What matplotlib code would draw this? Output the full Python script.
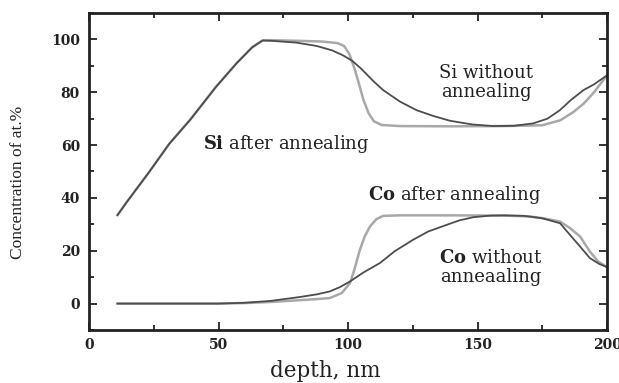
import matplotlib
matplotlib.use("Agg")
import matplotlib.pyplot as plt

# ---- data ----
si_after_x = [11, 15, 23, 31, 39, 49, 57, 63, 67, 70, 80, 90, 96, 98.5, 100.5, 102.5,
              104, 106, 108, 110, 113, 120, 140, 160, 175, 182, 187, 191, 195, 200]
si_after_y = [33.5, 39, 49.5, 60.5, 69.5, 82, 91, 97, 99.6, 99.7, 99.5, 99.2, 98.6, 97.5,
              94.5, 89, 84, 77, 72, 69, 67.6, 67.2, 67.1, 67.2, 67.5, 69.4, 72.5, 75.7, 80, 86.4]

si_without_x = [11, 15, 23, 31, 39, 49, 57, 63, 67, 70, 80, 88, 94, 98, 101.5, 105, 110,
                113.6, 120, 126.5, 133, 139.4, 148, 156, 164, 171.5, 177, 181.8, 186,
                190.9, 195, 200]
si_without_y = [33.5, 39, 49.5, 60.5, 69.5, 82, 91, 97, 99.6, 99.5, 98.8, 97.5, 95.8, 94,
                92, 89, 84, 80.8, 76.5, 73.2, 71, 69.2, 67.8, 67.2, 67.3, 68.2, 70, 73.2,
                77, 80.8, 83, 86.4]

co_after_x = [11, 50, 60, 70, 80, 88, 93, 97.6, 100.8, 102.5, 104.6, 106.5, 108.5, 111,
              113.6, 120, 140, 160, 170, 176, 181.9, 185.7, 189.6, 193.4, 196.5, 200]
co_after_y = [0, 0, 0.2, 0.6, 1.2, 1.7, 2.1, 4, 7.8, 13, 20.4, 25.5, 29.2, 32, 33.2, 33.4,
              33.4, 33.3, 33.0, 32.2, 31, 28.6, 25.4, 19.7, 16, 13.8]

co_without_x = [11, 50, 60, 70, 81.5, 88, 93, 97, 100.8, 106, 112.4, 118, 125.2, 131,
                138.1, 143, 148.4, 155, 160, 168, 175, 181.9, 185.7, 189.6, 193.4, 197, 200]
co_without_y = [0, 0, 0.3, 1.0, 2.5, 3.5, 4.6, 6.3, 8.4, 11.8, 15.4, 19.8, 24.2, 27.3,
                29.8, 31.5, 32.7, 33.3, 33.4, 33.2, 32.3, 30.4, 26, 21.6, 17.2, 15, 13.8]

x_ticks = [0, 50, 100, 150, 200]
y_ticks = [0, 20, 40, 60, 80, 100]

# ---- style ----
ANN = 'DejaVu Serif'
plt.rcParams['mathtext.fontset'] = 'custom'
plt.rcParams['mathtext.rm'] = ANN
plt.rcParams['mathtext.bf'] = ANN + ':bold'

LIGHT = '#a8a8a8'
DARK = '#4d4d4d'
INK = '#222222'

fig = plt.figure(figsize=(6.19, 3.83), dpi=100)
ax = fig.add_axes([89/619, 1 - 330/383, (607 - 89)/619, (330 - 13)/383])

ax.plot(si_after_x, si_after_y, color=LIGHT, lw=1.8)
ax.plot(co_after_x, co_after_y, color=LIGHT, lw=1.8)
ax.plot(si_without_x, si_without_y, color=DARK, lw=1.3)
ax.plot(co_without_x, co_without_y, color=DARK, lw=1.3)

ax.set_xlim(0, 200)
ax.set_ylim(-10, 110)
ax.set_xticks(x_ticks)
ax.set_yticks(y_ticks)
ax.set_xticks([25, 75, 125, 175], minor=True)
ax.set_yticks([-10, 10, 30, 50, 70, 90, 110], minor=True)
ax.tick_params(which='both', direction='in', top=True, right=True, width=1.3, color=INK)
ax.tick_params(which='major', length=6, labelsize=10, labelcolor=INK)
ax.tick_params(axis='y', which='major', pad=6.5)
ax.tick_params(axis='x', which='major', pad=6)
ax.tick_params(which='minor', length=3.5)
for lab in ax.get_xticklabels() + ax.get_yticklabels():
    lab.set_family('DejaVu Serif')
    lab.set_fontweight('bold')
for s in ax.spines.values():
    s.set_linewidth(2.0)
    s.set_color(INK)

# annotations
FS = 13
ax.text(153.3, 87.2, 'Si without', family=ANN, fontsize=FS, ha='center', va='center', color=INK)
ax.text(153.3, 80.0, 'annealing', family=ANN, fontsize=FS, ha='center', va='center', color=INK)
ax.text(44.0, 60.4, r'$\mathbf{Si}$ after annealing', family=ANN, fontsize=FS,
        ha='left', va='center', color=INK)
ax.text(107.7, 41.1, r'$\mathbf{Co}$ after annealing', family=ANN, fontsize=FS,
        ha='left', va='center', color=INK)
ax.text(155.2, 17.4, r'$\mathbf{Co}$ without', family=ANN, fontsize=FS,
        ha='center', va='center', color=INK)
ax.text(155.2, 10.2, 'anneaaling', family=ANN, fontsize=FS,
        ha='center', va='center', color=INK)

fig.text(18/619, 1 - 182/383, 'Concentration of at.%', family='Liberation Serif', fontsize=12.5,
         rotation=90, ha='center', va='center', color=INK)
fig.text(325/619, 1 - 371/383, 'depth, nm', family=ANN, fontsize=15.5,
         ha='center', va='center', color=INK)

fig.savefig('out.png', dpi=100)
